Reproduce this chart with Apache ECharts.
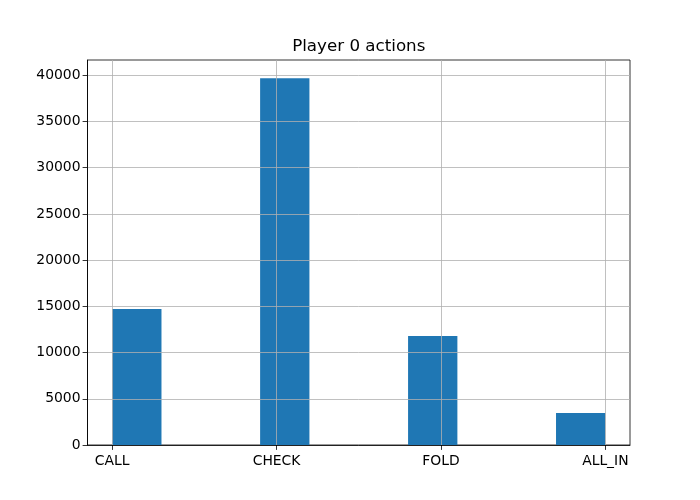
<!DOCTYPE html>
<html>
<head>
<meta charset="utf-8">
<script src="https://cdn.jsdelivr.net/npm/echarts@6/dist/echarts.min.js"></script>
<style>html,body{margin:0;padding:0;background:#fff}#c{width:700px;height:500px}</style>
</head>
<body>
<div id="c"></div>
<script>
const categories = ['CALL', 'CHECK', 'FOLD', 'ALL_IN'];
const categoryPos = [0, 1, 2, 3];
const counts = [14700, 39680, 11780, 3460];
const binStart = [0, 0.9, 1.8, 2.7];
const binWidth = 0.3;
const yTicks = [0, 5000, 10000, 15000, 20000, 25000, 30000, 35000, 40000];
const title = 'Player 0 actions';

const data = counts.map((v, i) => [binStart[i], binStart[i] + binWidth, v]);
const font = 'DejaVu Sans';

const chart = echarts.init(document.getElementById('c'));
chart.setOption({
  animation: false,
  graphic: [{
    type: 'text', x: 358.75, y: 47,
    style: { text: title, fontFamily: font, fontSize: 16.7, fill: '#000', align: 'center', verticalAlign: 'middle' }
  }],
  grid: { left: 87.5, right: 70, top: 60, bottom: 55, show: true, borderColor: '#000', borderWidth: 0.8, backgroundColor: 'transparent' },
  xAxis: {
    type: 'value', min: -0.15, max: 3.15, z: 5,
    axisLine: { show: true, onZero: false, lineStyle: { color: '#000', width: 0.8 } },
    axisTick: { show: true, customValues: categoryPos, length: 4.9, lineStyle: { color: '#000', width: 0.8 } },
    axisLabel: {
      customValues: categoryPos, margin: 9, color: '#000', fontFamily: font, fontSize: 13.9,
      formatter: v => categories[categoryPos.indexOf(Math.round(v))] || ''
    },
    splitLine: { show: true, lineStyle: { color: '#b0b0b0', width: 0.8 } }
  },
  yAxis: {
    type: 'value', min: 0, max: 41650, z: 5,
    axisLine: { show: true, onZero: false, lineStyle: { color: '#000', width: 0.8 } },
    axisTick: { show: true, customValues: yTicks, length: 4.9, lineStyle: { color: '#000', width: 0.8 } },
    axisLabel: { customValues: yTicks, margin: 7, color: '#000', fontFamily: font, fontSize: 13.9, formatter: v => String(v) },
    splitLine: { show: true, lineStyle: { color: '#b0b0b0', width: 0.8 } }
  },
  series: [{
    type: 'custom', z: 2,
    encode: { x: [0, 1], y: 2 },
    data: data,
    renderItem: (params, api) => {
      const p0 = api.coord([api.value(0), api.value(2)]);
      const p1 = api.coord([api.value(1), 0]);
      return { type: 'rect', shape: { x: p0[0], y: p0[1], width: p1[0] - p0[0], height: p1[1] - p0[1] }, style: { fill: '#1f77b4' } };
    }
  }]
});
</script>
</body>
</html>
